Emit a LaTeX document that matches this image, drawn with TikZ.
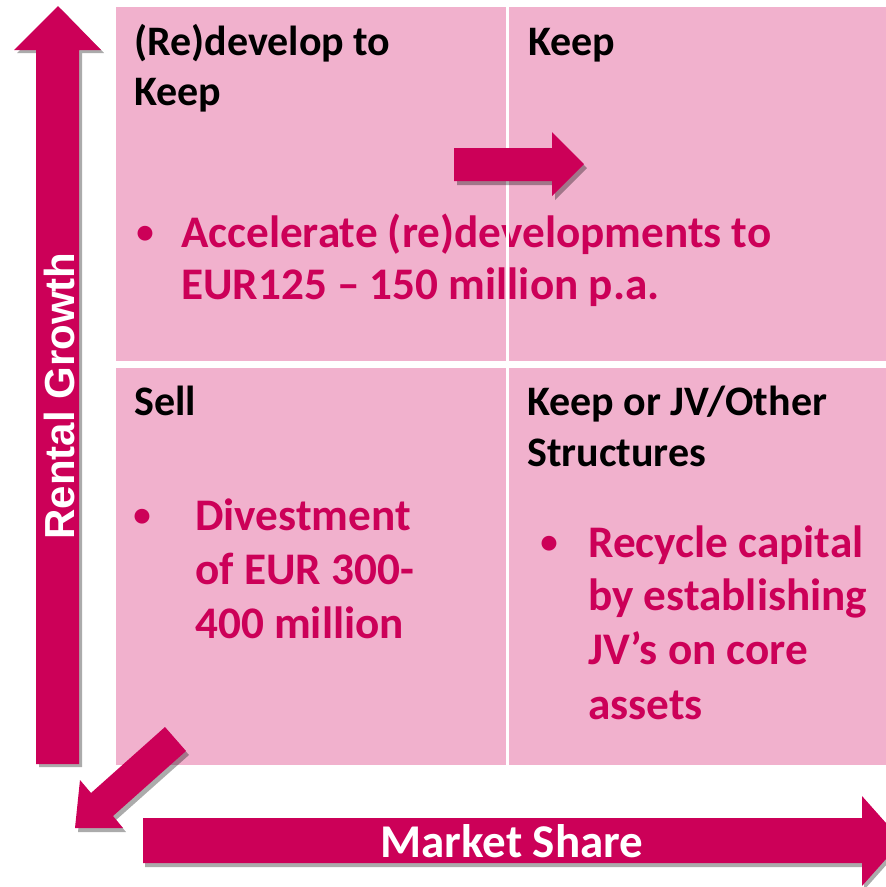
\documentclass[tikz,border=0pt]{standalone}
\usepackage{fontspec}
\setmainfont{Carlito}
\newfontfamily\arialb{Liberation Sans}
\definecolor{mag}{HTML}{CC0058}
\definecolor{pinkq}{HTML}{F1B1CD}
\tikzset{
  head/.style={anchor=base west, inner sep=0pt, font=\fontsize{42}{50}\selectfont\bfseries, text=black},
  btxt/.style={anchor=base west, inner sep=0pt, font=\fontsize{45.2}{54}\selectfont\bfseries, text=mag},
  bul/.style={anchor=base, inner sep=0pt, font=\fontsize{35}{54}\selectfont\bfseries, text=mag},
  arrowfill/.style={fill=mag},
  shadowfill/.style={fill=black, opacity=0.33},
}
\begin{document}
\begin{tikzpicture}[x=1pt,y=-1pt]
\useasboundingbox (0,0) rectangle (886,887);
\clip (0,0) rectangle (886,887);
% quadrants
\fill[pinkq] (116,7) rectangle (886,765);
\fill[white] (116,361) rectangle (886,368);
% headings
\node[head] (h1a) at (134,55) {(Re)develop to};
\node[head] (h1b) at (134,105) {Keep};
\node[head] (h2) at (528,55) {Keep};
\node[head] (h3) at (134,415) {Sell};
\node[head] (h4a) at (527,415) {Keep or JV/Other};
\node[head] (h4b) at (527,466) {Structures};
% bullets
\node[bul] (b1) at (145,243) {•};
\node[btxt] (t1a) at (181,247) {Accelerate (re)developments to};
\node[btxt] (t1b) at (181,299) {EUR125 – 150 million p.a.};
\node[bul] (b2) at (142,526) {•};
\node[btxt] (t2a) at (195,530) {Divestment};
\node[btxt] (t2b) at (195,584) {of EUR 300-};
\node[btxt] (t2c) at (195,638) {400 million};
\node[bul] (b3) at (549,553) {•};
\node[btxt] (t3a) at (588,557) {Recycle capital};
\node[btxt] (t3b) at (588,610) {by establishing};
\node[btxt] (t3c) at (588,664) {JV’s on core};
\node[btxt] (t3d) at (588,719) {assets};
% vertical divider
\fill[white] (506,7) rectangle (509,765);
% up arrow
\fill[shadowfill,shift={(3,3)}] (58,6) -- (101,50) -- (79,50) -- (79,764) -- (36,764) -- (36,50) -- (14,50) -- cycle;
\fill[arrowfill] (58,6) -- (101,50) -- (79,50) -- (79,764) -- (36,764) -- (36,50) -- (14,50) -- cycle;
\node[text=white, inner sep=0pt, font=\arialb\bfseries\fontsize{42}{42}\selectfont] (rg) at (59,396) {\rotatebox{90}{Rental Growth}};
% right arrow
\fill[shadowfill,shift={(3,4)}] (454,148) -- (552,148) -- (552,132) -- (584,164) -- (552,196) -- (552,181) -- (454,181) -- cycle;
\fill[arrowfill] (454,148) -- (552,148) -- (552,132) -- (584,164) -- (552,196) -- (552,181) -- (454,181) -- cycle;
% diagonal arrow
\fill[shadowfill,shift={(3,4)}] (165,727) -- (186,751) -- (113,816) -- (123,828) -- (75,828) -- (80,780) -- (91,793) -- cycle;
\fill[arrowfill] (165,727) -- (186,751) -- (113,816) -- (123,828) -- (75,828) -- (80,780) -- (91,793) -- cycle;
% market share arrow
\fill[shadowfill,shift={(2,4)}] (143,818) -- (862,818) -- (862,796) -- (902,841) -- (862,886) -- (862,863) -- (143,863) -- cycle;
\fill[arrowfill] (143,818) -- (862,818) -- (862,796) -- (902,841) -- (862,886) -- (862,863) -- (143,863) -- cycle;
\node[anchor=base, inner sep=0pt, text=white, font=\fontsize{47}{47}\selectfont\bfseries] (ms) at (512,857) {Market Share};
\end{tikzpicture}
\end{document}
